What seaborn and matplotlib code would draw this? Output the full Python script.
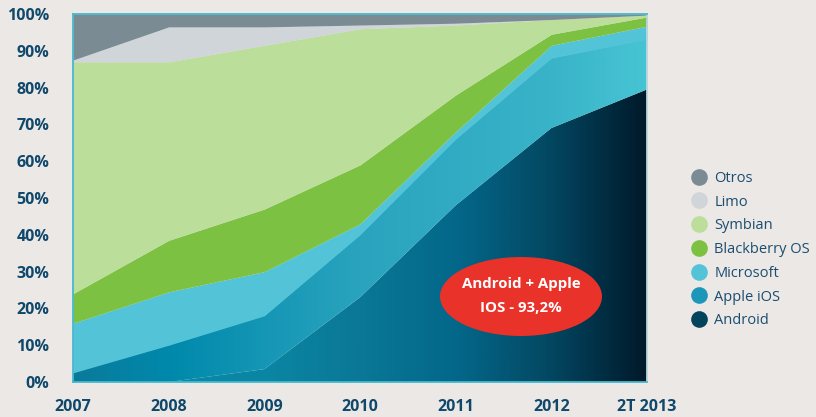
import numpy as np
import matplotlib
matplotlib.use("Agg")
import matplotlib.pyplot as plt
import seaborn as sns
from matplotlib.colors import LinearSegmentedColormap
from matplotlib.patches import Ellipse
from matplotlib.lines import Line2D

# ---- data (market share %, per platform) ----
years = ["2007", "2008", "2009", "2010", "2011", "2012", "2T 2013"]
android    = [0.0, 0.0, 3.5, 23.0, 48.0, 69.0, 79.5]
apple_ios  = [2.5, 10.0, 14.5, 17.0, 18.0, 19.0, 13.7]
microsoft  = [13.5, 14.5, 12.0, 3.0, 2.0, 3.5, 3.5]
blackberry = [8.0, 14.0, 17.0, 16.0, 10.0, 3.0, 2.5]
symbian    = [63.0, 48.5, 44.5, 37.0, 19.0, 4.0, 0.5]
limo       = [0.5, 9.5, 5.0, 1.0, 0.5, 0.0, 0.0]
otros      = [12.5, 3.5, 3.5, 3.0, 2.5, 1.5, 0.3]
yticks = [0, 10, 20, 30, 40, 50, 60, 70, 80, 90, 100]
callout = ["Android + Apple", "IOS - 93,2%"]

names = ["Android", "Apple iOS", "Microsoft", "Blackberry OS", "Symbian", "Limo", "Otros"]
series = [android, apple_ios, microsoft, blackberry, symbian, limo, otros]

sns.set_style("white")
plt.rcParams["font.family"] = ["Open Sans", "DejaVu Sans"]

BG = "#ebe8e6"
W, H = 816, 417
fig = plt.figure(figsize=(W/100, H/100), dpi=100, facecolor=BG)
ax = fig.add_axes([73/W, 1-382/H, (647-73)/W, (382-14)/H])
ax.set_facecolor(BG)

x = np.arange(len(years))
cum = np.vstack([np.zeros(len(years)), np.cumsum(np.array(series), axis=0)])

solid = {"Microsoft": "#53c4d8", "Blackberry OS": "#7dc142",
         "Symbian": "#bbde9b", "Limo": "#d0d5d9", "Otros": "#7a8b94"}
grads = {"Android": [(0.0, "#0d8cab"), (0.33, "#0a86a4"), (0.5, "#0a7896"),
                     (0.67, "#03678a"), (0.83, "#034862"), (1.0, "#00192a")],
         "Apple iOS": [(0.0, "#0b7a9b"), (0.17, "#0089ac"), (0.5, "#2aa4be"),
                       (0.83, "#38b3c8"), (1.0, "#47c4d4")]}

for i, name in enumerate(names):
    lo, hi = cum[i], cum[i+1]
    if name in solid:
        ax.fill_between(x, lo, hi, color=solid[name], lw=0, zorder=2)
    else:
        poly = ax.fill_between(x, lo, hi, color="none", lw=0, zorder=2)
        cmap = LinearSegmentedColormap.from_list(name, grads[name])
        g = np.linspace(0, 1, 512).reshape(1, -1)
        im = ax.imshow(g, cmap=cmap, extent=[x[0], x[-1], 0, 100],
                       aspect="auto", origin="lower", zorder=2)
        im.set_clip_path(poly.get_paths()[0], transform=ax.transData)

ax.set_xlim(x[0], x[-1])
ax.set_ylim(0, 100)
ax.set_xticks(x)
ax.set_xticklabels(years)
ax.set_yticks(yticks)
ax.set_yticklabels([f"{v}%" for v in yticks])

for s in ax.spines.values():
    s.set_color("#45b9cc")
    s.set_linewidth(1.3)
    s.set_zorder(5)
ax.spines["right"].set_color("#b9d6dc")

ax.tick_params(axis="both", which="both", direction="out", color="#b0b0b0",
               width=2.2, labelcolor="#10486b", labelsize=11.5)
ax.tick_params(axis="y", length=7, pad=10)
ax.tick_params(axis="x", length=9, pad=3)
for lab in ax.get_xticklabels() + ax.get_yticklabels():
    lab.set_fontweight("bold")

# callout
ax.add_patch(Ellipse((521, H-296.5), 162, 79, transform=None,
                     facecolor="#e9322a", edgecolor="none", zorder=6))
ax.text(521/W, 1-284/H, callout[0], transform=fig.transFigure, ha="center",
        va="center", color="white", fontsize=10.8, fontweight="bold", zorder=7)
ax.text(521/W, 1-308/H, callout[1], transform=fig.transFigure, ha="center",
        va="center", color="white", fontsize=10.8, fontweight="bold", zorder=7)

# legend
leg_cols = {"Otros": "#7a8b94", "Limo": "#d0d5d9", "Symbian": "#bbde9b",
            "Blackberry OS": "#7dc142", "Microsoft": "#53c4d8",
            "Apple iOS": "#1d97b9", "Android": "#04435c"}
handles = [Line2D([], [], marker="o", linestyle="none", markersize=12,
                  markerfacecolor=leg_cols[n], markeredgecolor="none")
           for n in names[::-1]]
leg = fig.legend(handles, names[::-1], loc="upper left",
                 bbox_to_anchor=(685/W, 1-165/H), frameon=False,
                 handletextpad=0.5, labelspacing=0.6, fontsize=10.5,
                 handlelength=1.1, borderaxespad=0)
for t in leg.get_texts():
    t.set_color("#1b4d70")

fig.savefig("out.png", dpi=100, facecolor=BG)
